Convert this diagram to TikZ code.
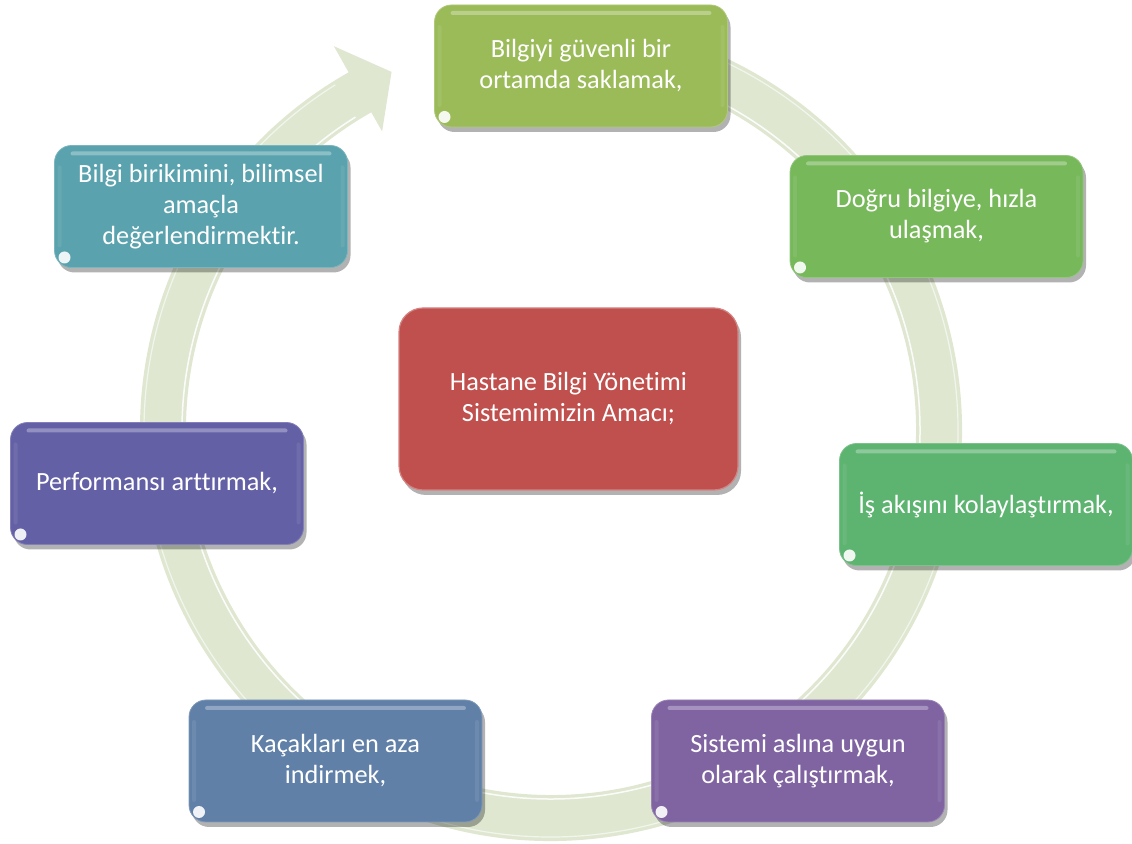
\documentclass[tikz,border=0pt]{standalone}
\usepackage{fontspec}
\setmainfont[Ligatures={NoCommon}]{Carlito}
\usetikzlibrary{shadows}
\definecolor{ringc}{HTML}{DFE7D1}
\definecolor{cA}{HTML}{9BBB59}
\definecolor{cB}{HTML}{77B85B}
\definecolor{cC}{HTML}{5DB370}
\definecolor{cD}{HTML}{8064A2}
\definecolor{cE}{HTML}{6080A8}
\definecolor{cF}{HTML}{6460A6}
\definecolor{cG}{HTML}{5AA2AD}
\definecolor{cH}{HTML}{C0504D}
\tikzset{
  boxbase/.style={rounded corners=17pt, minimum width=293pt, minimum height=122pt,
    text=white, align=center, inner sep=0pt,
    font=\fontsize{26.3}{31}\selectfont,
    drop shadow={shadow xshift=3pt, shadow yshift=-5pt, opacity=0.3, fill=black}},
  gbox/.style={boxbase, fill=#1, draw=#1!80!white, line width=0.8pt,
    path picture={
      \fill[white, opacity=0.3, rounded corners=2pt]
        ([xshift=16pt,yshift=-6pt]path picture bounding box.north west) rectangle
        ([xshift=-16pt,yshift=-10pt]path picture bounding box.north east);
      \fill[white, opacity=0.08, rounded corners=2pt]
        ([xshift=3pt,yshift=-20pt]path picture bounding box.north west) rectangle
        ([xshift=7pt,yshift=20pt]path picture bounding box.south west);
      \fill[white, opacity=0.08, rounded corners=2pt]
        ([xshift=-3pt,yshift=-20pt]path picture bounding box.north east) rectangle
        ([xshift=-7pt,yshift=20pt]path picture bounding box.south east);
      \fill[white, opacity=0.9]
        ([xshift=10pt,yshift=10pt]path picture bounding box.south west) ellipse (6pt and 6pt);
    }},
  cbox/.style={boxbase, rounded corners=24pt, minimum width=339pt, minimum height=182pt,
    fill=#1, draw=#1!70!white, line width=1.2pt}
}
\begin{document}
\begin{tikzpicture}[x=1pt,y=1pt]
\useasboundingbox (0,0) rectangle (1132,843);
% circular arrow
\begin{scope}[shift={(551,413)}]
  \fill[ringc] (100:411pt) arc[start angle=100, end angle=-240.5, radius=411pt]
    -- (119.5:441pt) -- (114:392pt) -- (119.5:343pt) -- (119.5:365pt)
    arc[start angle=-240.5, end angle=100, radius=365pt] -- cycle;
  \draw[white, line width=1.5pt, opacity=0.9] (95:369pt) arc[start angle=95, end angle=-238, radius=369pt];
  \draw[white, line width=1.2pt, opacity=0.6] (95:407pt) arc[start angle=95, end angle=-238, radius=407pt];
\end{scope}
% boxes
\node[gbox=cA] (b1) at (581,777) {Bilgiyi güvenli bir\\ortamda saklamak,};
\node[gbox=cB] (b2) at (936.5,626.5) {Doğru bilgiye, hızla\\ulaşmak,};
\node[gbox=cC] (b3) at (986,338.5) {İş akışını kolaylaştırmak,};
\node[gbox=cD] (b4) at (798,82) {Sistemi aslına uygun\\olarak çalıştırmak,};
\node[gbox=cE] (b5) at (335.5,82) {Kaçakları en aza\\indirmek,};
\node[gbox=cF] (b6) at (157,359.5) {Performansı arttırmak,};
\node[gbox=cG] (b7) at (201,636.5) {Bilgi birikimini, bilimsel\\amaçla\\değerlendirmektir.};
\node[cbox=cH] (c) at (568.5,444) {Hastane Bilgi Yönetimi\\Sistemimizin Amacı;};
\end{tikzpicture}
\end{document}
